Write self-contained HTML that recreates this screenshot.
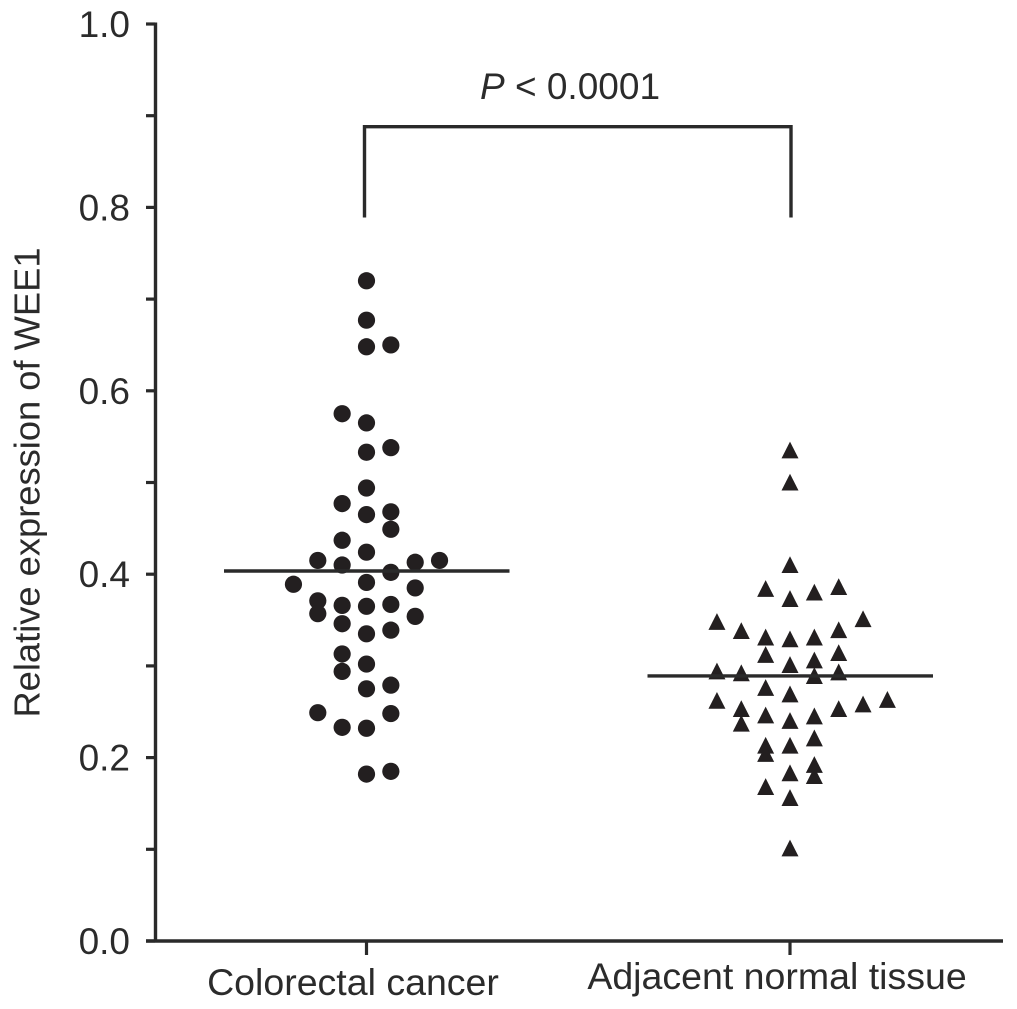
<!DOCTYPE html>
<html lang="en">
<head>
<meta charset="utf-8">
<title>Relative expression of WEE1</title>
<style>
html,body{margin:0;padding:0;background:#fff;width:1017px;height:1009px;overflow:hidden}
svg{display:block}
text{font-family:"Liberation Sans",Arial,sans-serif;fill:#2b2b2b}
</style>
</head>
<body>
<svg id="chart" xmlns="http://www.w3.org/2000/svg" width="1017" height="1009" viewBox="0 0 1017 1009">
  <rect width="1017" height="1009" fill="#fff"/>
  <text transform="translate(39.5,482.5) rotate(-90)" text-anchor="middle" font-size="36.3">Relative expression of WEE1</text>
  <text x="480" y="99" font-size="37"><tspan font-style="italic">P</tspan> &lt; 0.0001</text>
  <g id="axes"></g>
  <g id="marks"></g>
</svg>
<script>
var categories = ['Colorectal cancer', 'Adjacent normal tissue'];
var majorTicks = [0.0, 0.2, 0.4, 0.6, 0.8, 1.0];
var minorTicks = [0.1, 0.3, 0.5, 0.7, 0.9];
var means = [0.4035, 0.289];
var bracketValues = [0.789, 0.888];

var cancerValues = [0.72,0.677,0.648,0.65,0.575,0.565,0.533,0.538,0.494,0.477,0.465,0.468,0.449,0.437,0.424,0.415,0.41,0.413,0.415,0.402,0.389,0.391,0.385,0.371,0.366,0.365,0.367,0.357,0.354,0.346,0.335,0.339,0.313,0.302,0.294,0.275,0.279,0.249,0.248,0.233,0.232,0.182,0.185];
var cancerColumns = [0,0,0,1,-1,0,0,1,0,-1,0,1,1,-1,0,-2,-1,2,3,1,-3,0,2,-2,-1,0,1,-2,2,-1,0,1,-1,0,-1,0,1,-2,1,-1,0,0,1];

var normalValues = [0.535,0.5,0.41,0.384,0.386,0.38,0.373,0.351,0.348,0.338,0.339,0.331,0.329,0.331,0.312,0.314,0.301,0.306,0.294,0.292,0.293,0.289,0.276,0.269,0.262,0.263,0.258,0.253,0.253,0.246,0.245,0.24,0.237,0.221,0.213,0.213,0.204,0.192,0.183,0.18,0.168,0.156,0.101];
var normalColumns = [0,0,0,-1,2,1,0,3,-3,-2,2,-1,0,1,-1,2,0,1,-3,-2,2,1,-1,0,-3,4,3,2,-2,-1,1,0,-2,1,-1,0,-1,1,0,1,-1,0,0];

var NS = 'http://www.w3.org/2000/svg';
var INK = '#2a2a2a', MARK = '#231f20';
var axes = document.getElementById('axes');
var marks = document.getElementById('marks');

function yScale(v) { return 941 - v * 917; }
function xScale(categoryIndex, column) { return 366.5 + categoryIndex * 423.5 + column * 24.35; }

function make(tag, parent, attrs) {
  var el = document.createElementNS(NS, tag);
  for (var k in attrs) el.setAttribute(k, attrs[k]);
  parent.appendChild(el);
  return el;
}
function line(parent, x1, y1, x2, y2, w) {
  return make('line', parent, {x1: x1, y1: y1, x2: x2, y2: y2, stroke: INK, 'stroke-width': w});
}

var yAxis = line(axes, 155.5, yScale(1) - 1.5, 155.5, yScale(0) + 1.5, 3.4);


var xAxis = line(axes, 146, yScale(0), 1003, yScale(0), 3.4);



majorTicks.forEach(function (v) {
  var tick = line(axes, 146, yScale(v), 155, yScale(v), 3.2);
  
  
  var label = make('text', axes, {x: 130, y: yScale(v) + 13, 'text-anchor': 'end', 'font-size': 37});
  label.textContent = v.toFixed(1);
  
  
});
minorTicks.forEach(function (v) {
  var tick = line(axes, 146, yScale(v), 155, yScale(v), 3.2);
  
  
});

var labelX = [353, 777];
var labelY = [995, 989];
categories.forEach(function (name, i) {
  var tick = line(axes, xScale(i, 0), yScale(0), xScale(i, 0), 955, 3.2);
  
  
  var label = make('text', axes, {x: labelX[i], y: labelY[i], 'text-anchor': 'middle', 'font-size': 37.5});
  label.textContent = name;
  
  
});

var bracket = make('path', axes, {
  d: 'M' + (xScale(0, 0) - 2) + ' ' + yScale(bracketValues[0]) +
     'V' + yScale(bracketValues[1]) +
     'H' + (xScale(1, 0) + 1) +
     'V' + yScale(bracketValues[0]),
  fill: 'none', stroke: INK, 'stroke-width': 3.4
});



cancerValues.forEach(function (v, i) {
  var dot = make('circle', marks, {cx: xScale(0, cancerColumns[i]), cy: yScale(v), r: 8.6, fill: MARK});
  
  
});
normalValues.forEach(function (v, i) {
  var x = xScale(1, normalColumns[i]), y = yScale(v);
  var tri = make('polygon', marks, {
    points: x + ',' + (y - 8.8) + ' ' + (x + 8.5) + ',' + (y + 8) + ' ' + (x - 8.5) + ',' + (y + 8),
    fill: MARK
  });
  
  
});

means.forEach(function (m, i) {
  var mean = make('line', marks, {
    x1: xScale(i, 0) - 142.5, y1: yScale(m), x2: xScale(i, 0) + 143, y2: yScale(m),
    stroke: INK, 'stroke-width': 3.4
  });
  
  
});
</script>
</body>
</html>
